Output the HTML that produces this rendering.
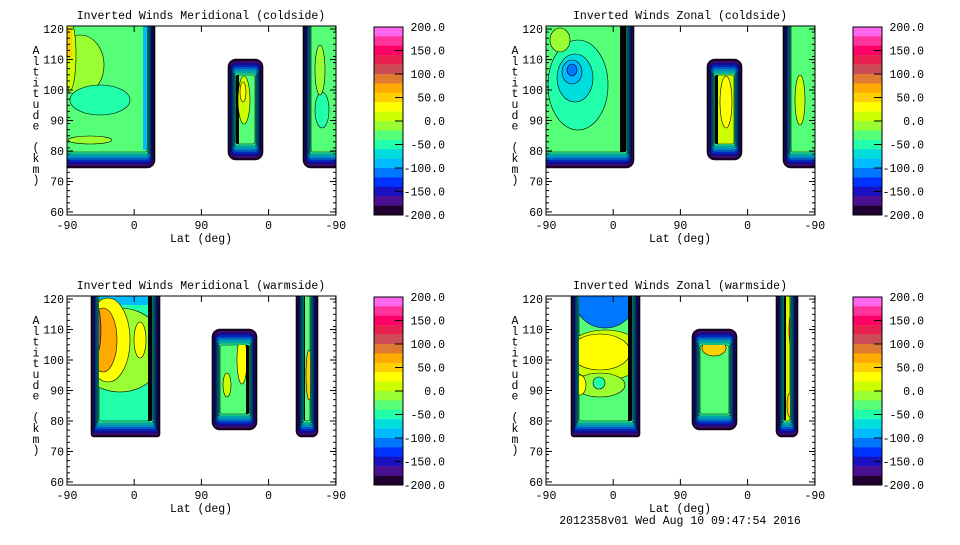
<!DOCTYPE html>
<html><head><meta charset="utf-8"><style>
html,body{margin:0;padding:0;background:#fff;}
svg text{font-family:"Liberation Mono","DejaVu Sans Mono",monospace;font-size:11.5px;fill:#000;}
</style></head><body>
<svg id="s" width="960" height="540" xmlns="http://www.w3.org/2000/svg"></svg>
<script>
const S=document.getElementById('s');let h='';let bid=0;
const cb=['#ff66ee','#ff3399','#ff0066','#e8204f','#cc4c55','#e07a30','#ffaa00','#ffd000','#ffff00','#ccff00','#99ff33','#55ff77','#22ffaa','#00dddd','#00bbff','#0077ff','#0033ff','#1a10c0','#4a1090','#200030'];
const rim=['#200030','#4a1090','#1a10c0','#0033ff','#0077ff','#00bbff','#00dddd','#22ffaa'];
function panel(ox,oy,title,blobs){
 h+=`<clipPath id="c${ox}${oy}"><rect x="${ox}" y="${oy}" width="269" height="189"/></clipPath><g clip-path="url(#c${ox}${oy})">`;
 for(const b of blobs){
  let [x0,x1,y0,y1,r,fill,ex]=b;
  const DX=1.0,DY=2.0;
  rim.forEach((c,i)=>{const dx=i*DX,dy=i*DY;h+=`<rect x="${x0+dx}" y="${y0+dy}" width="${x1-x0-2*dx}" height="${y1-y0-2*dy}" rx="${Math.max(r-dx,1)}" fill="${c}" stroke="#000" stroke-width="0.6"/>`;});
  const dx=rim.length*DX,dy=rim.length*DY;bid++;
  const ix=x0+dx,iy=y0+dy,iw=x1-x0-2*dx,ih=y1-y0-2*dy;
  h+=`<clipPath id="b${bid}"><rect x="${ix}" y="${iy}" width="${iw}" height="${ih}" rx="2"/></clipPath>`;
  h+=`<rect x="${ix}" y="${iy}" width="${iw}" height="${ih}" rx="2" fill="${fill}" stroke="#000" stroke-width="0.6"/>`;
  if(ex)h+=`<g clip-path="url(#b${bid})">${ex}</g>`;
 }
 h+='</g>';
 h+=`<rect x="${ox}" y="${oy}" width="269" height="189" fill="none" stroke="#000"/>`;
 h+=`<text x="${ox+134}" y="${oy-7}" text-anchor="middle">${title}</text>`;
 for(let a=60;a<=120;a+=10){const y=oy+(121-a)/62*189;
  h+=`<line x1="${ox}" x2="${ox+6}" y1="${y}" y2="${y}" stroke="#000"/><line x1="${ox+263}" x2="${ox+269}" y1="${y}" y2="${y}" stroke="#000"/>`;
  h+=`<text x="${ox-3}" y="${y+4}" text-anchor="end">${a}</text>`;}
 for(let a=59;a<=121;a+=2){const y=oy+(121-a)/62*189;h+=`<line x1="${ox}" x2="${ox+3}" y1="${y}" y2="${y}" stroke="#000"/><line x1="${ox+266}" x2="${ox+269}" y1="${y}" y2="${y}" stroke="#000"/>`;}
 const xl=['-90','0','90','0','-90'];
 for(let i=0;i<5;i++){const x=ox+i*67.2;h+=`<line x1="${x}" x2="${x}" y1="${oy+189}" y2="${oy+183}" stroke="#000"/><line x1="${x}" x2="${x}" y1="${oy}" y2="${oy+6}" stroke="#000"/>`;
  h+=`<text x="${x}" y="${oy+203}" text-anchor="middle">${xl[i]}</text>`;}
 h+=`<text x="${ox+134}" y="${oy+216}" text-anchor="middle">Lat (deg)</text>`;
 const lab='Altitude (km)';for(let i=0;i<lab.length;i++)h+=`<text x="${ox-31}" y="${oy+28+i*10.8}" text-anchor="middle">${lab[i]}</text>`;
 const cx=ox+307;
 cb.forEach((c,i)=>{h+=`<rect x="${cx}" y="${oy+1+i*9.4}" width="29" height="9.6" fill="${c}"/>`;});
 h+=`<rect x="${cx}" y="${oy+1}" width="29" height="188" fill="none" stroke="#000"/>`;
 for(let i=0;i<=8;i++){const v=200-i*50,y=oy+1+i*23.5;
  if(i>0&&i<8)h+=`<line x1="${cx+21}" x2="${cx+29}" y1="${y}" y2="${y}" stroke="#000"/>`;
  h+=`<text x="${cx+71}" y="${y+4}" text-anchor="end">${v.toFixed(1)}</text>`;}
}
const e=(x,y,rx,ry,c)=>`<ellipse cx="${x}" cy="${y}" rx="${rx}" ry="${ry}" fill="${c}" stroke="#000" stroke-width="0.6"/>`;
const R=(x,y,w,hh,c)=>`<rect x="${x}" y="${y}" width="${w}" height="${hh}" fill="${c}"/>`;
panel(67,26,'Inverted Winds Meridional (coldside)',[
 [55,155,-10,168,8,'#55ff77',e(80,65,24,30,'#99ff33')+e(100,100,30,15,'#22ffaa')+e(70,55,6,35,'#ccff00')+R(67,28,5,30,'#ffd000')+e(90,140,22,4,'#99ff33')+R(143,20,6,130,'#00bbff')+R(148,20,5,130,'#000')],
 [228,263,59,160,8,'#55ff77',R(235,70,4,80,'#000')+e(244,100,6,24,'#ccff00')+e(243,92,3,10,'#ffff00')],
 [303,345,-10,168,8,'#55ff77',R(307,20,4,130,'#000')+e(322,110,7,18,'#22ffaa')+e(320,70,5,25,'#99ff33')],
]);
panel(546,26,'Inverted Winds Zonal (coldside)',[
 [534,634,-10,168,8,'#55ff77',e(578,85,30,45,'#22ffaa')+e(575,78,18,24,'#00dddd')+e(572,72,10,12,'#00bbff')+e(572,70,5,6,'#0077ff')+R(620,20,10,135,'#000')+e(560,40,10,12,'#99ff33')],
 [707,742,59,160,8,'#ccff00',R(714,70,4,80,'#000')+e(726,102,6,26,'#ffff00')],
 [783,825,-10,168,8,'#55ff77',R(786,20,5,145,'#000')+e(800,100,5,25,'#ccff00')],
]);
panel(67,296,'Inverted Winds Meridional (warmside)',[
 [91,160,280,437,3,'#22ffaa',R(100,290,60,15,'#00bbff')+e(120,350,45,42,'#99ff33')+e(108,340,22,42,'#ffff00')+e(103,340,14,32,'#ffaa00')+e(96,330,5,25,'#cc4c55')+e(140,340,6,18,'#ffff00')+R(148,290,8,145,'#000')],
 [212,257,329,430,8,'#55ff77',e(242,360,5,24,'#ffff00')+R(246,335,5,80,'#000')+e(227,385,4,12,'#ccff00')],
 [296,318,280,437,6,'#55ff77',R(298,290,7,140,'#000')+e(309,375,3,25,'#ffd000')],
]);
panel(546,296,'Inverted Winds Zonal (warmside)',[
 [571,640,280,437,3,'#55ff77',e(605,300,30,28,'#0077ff')+e(605,355,40,25,'#ccff00')+e(600,352,30,18,'#ffff00')+e(600,385,25,12,'#99ff33')+e(580,385,6,10,'#ffff00')+e(599,383,6,6,'#22ffaa')+R(628,290,9,140,'#000')],
 [692,737,329,430,8,'#55ff77',e(714,348,12,8,'#ffd000')],
 [776,798,280,437,6,'#ccff00',R(778,290,8,130,'#000')+e(790,405,3,12,'#ffd000')+e(791,330,2,15,'#e8204f')],
]);
h+=`<text x="680" y="524" text-anchor="middle">2012358v01 Wed Aug 10 09:47:54 2016</text>`;
S.innerHTML=h;
</script>
</body></html>
